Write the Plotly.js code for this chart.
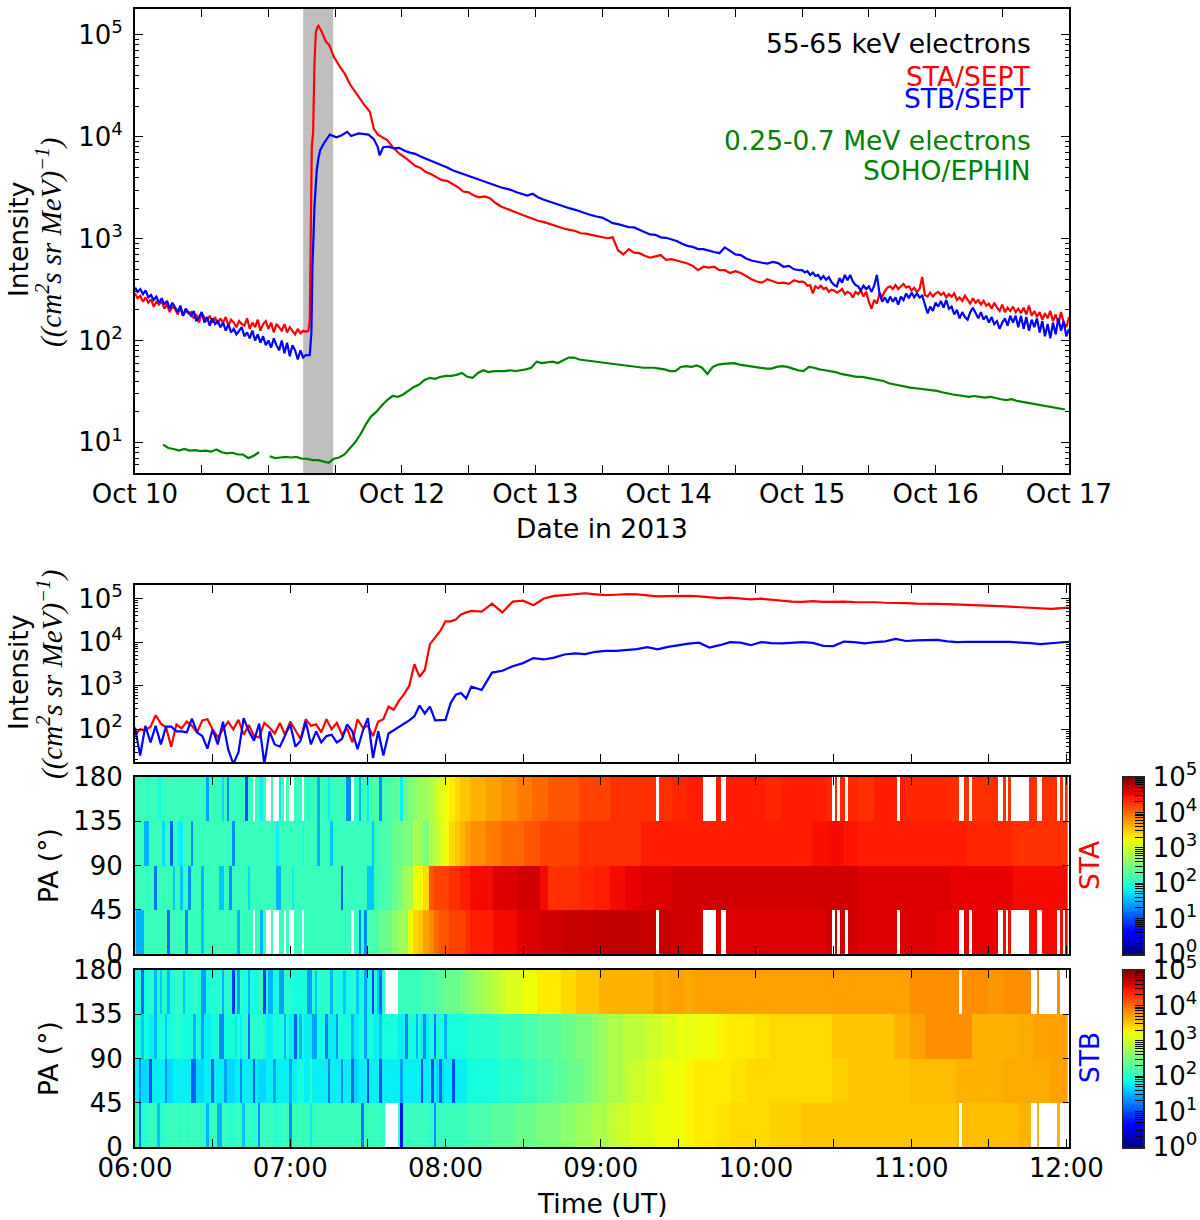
<!DOCTYPE html>
<html><head><meta charset="utf-8">
<script src="https://cdn.plot.ly/plotly-3.0.1.min.js"></script>
<style>html,body{margin:0;padding:0;background:#fff}#c{width:1200px;height:1220px}</style>
</head><body><div id="c"></div>
<script>
// ---------- top panel: days since 2013-10-10 00:00 ----------
const dateTickVals=[0,0.5,1,1.5,2,2.5,3,3.5,4,4.5,5,5.5,6,6.5,7];
const dateTickText=['Oct 10','','Oct 11','','Oct 12','','Oct 13','','Oct 14','','Oct 15','','Oct 16','','Oct 17'];
const staQuiet=[290,260,275,240,265,235,255,215,240,225,245,205,225,190,215,205,180,210,175,195,185,190,165,180,150,185,170,155,175,150,170,145,165,150,170,140,160,150,135,155,145,140,165,130,150,135,160,125,145,155,130,150,120,145,135,125,145,120,135,125,115,130,118,125,122,125];
const stbQuiet=[330,300,320,285,310,265,280,250,270,235,260,225,245,205,235,210,190,220,175,205,190,175,195,155,170,190,150,170,140,165,145,155,135,150,125,145,120,130,115,125,135,110,120,105,125,100,115,95,110,90,100,85,105,90,80,100,75,95,70,90,80,65,80,68,72,72];
const staBurstDays=[1.31,1.325,1.335,1.345,1.355,1.365,1.375,1.40,1.43,1.455,1.49,1.53,1.575,1.61,1.647,1.68,1.72,1.76,1.79,1.82,1.85,1.89,1.93,1.977,2.02];
const staBurst=[160,8000,11000,52000,105000,118000,123000,107000,86000,80000,61000,50000,41000,33000,28000,24000,20500,17600,12000,10500,10000,9300,8000,6900,6300];
const stbBurstDays=[1.31,1.322,1.33,1.345,1.362,1.375,1.388,1.417,1.46,1.51,1.546,1.59,1.62,1.675,1.75,1.79,1.82,1.833,1.86,1.90,1.94,1.98,2.02];
const stbBurst=[72,120,525,2040,4680,6200,7400,8700,10500,9900,10300,11200,10200,10800,10500,9500,7900,6600,7900,8000,7700,7800,7300];
const staDecay=[5700,5200,4950,4500,4300,4000,3750,3700,3450,3200,2900,2850,2650,2550,2600,2500,2250,2080,1980,1900,1800,1720,1640,1560,1500,1460,1400,1340,1300,1250,1220,1190,1130,1120,1090,1060,1040,1010,1030,770,700,790,730,720,680,650,670,690,620,630,610,590,570,540,490,530,520,530,490,490,460,480,460,430,400,380,370,400,385,365,370,360,390,375];
const stbDecay=[7000,6800,6400,6100,5800,5500,5300,5000,4700,4500,4300,4150,3950,3800,3600,3500,3350,3200,3100,3000,2850,2750,2650,2760,2550,2420,2320,2240,2150,2080,1980,1920,1840,1760,1700,1650,1610,1520,1420,1390,1350,1300,1290,1220,1160,1100,1090,1030,1020,980,950,890,850,830,790,790,760,740,720,820,760,700,690,640,610,590,580,570,590,575,530,540,500,490];
const staLate=[380,370,345,350,290,340,325,345,320,330,300,315,310,295,305,320,285,300,290,265,300,285,310,270,300,240,205,250,230,290,270,305,330,340,320,350,320,340,360,330,340,310,330,300,320,420,280,270,295,270,290,300,280,295,265,285,270,290,250,265,245,275,250,230,260,235,250,225,245,220,230,205,235,210,195,225,190,210,195,215,190,205,185,210,180,220,175,195,170,190,160,185,165,195,155,180,145,190,150,135,170];
const stbLate=[490,465,480,440,465,430,440,400,430,395,420,375,350,340,410,370,440,390,440,380,350,340,310,345,320,340,300,345,440,290,240,265,235,270,240,265,225,270,250,290,260,295,265,290,265,275,230,185,215,195,235,215,245,210,250,205,215,180,200,165,190,170,160,190,210,185,165,190,160,175,150,170,145,155,130,150,165,140,175,150,175,135,175,130,170,125,160,135,165,120,155,110,145,105,150,115,165,125,155,110,130];
const ephin=[9.5,8.8,8.6,8.3,8.6,8.3,8.4,8.2,8.3,8.1,8.5,8.0,7.8,7.9,7.6,7.6,7.0,7.4,8.0,null,7.3,7.0,7.1,7.2,7.1,7.2,6.9,6.9,6.7,6.7,6.5,6.3,6.9,7.1,7.6,8.8,10,12,15,18,20,23,26,28.5,28,29.5,32,35,37,41,43,42,44,45,45,46,48,44,43,48,51,49,50,50,50,51,50,51,52,54,62,60,61,62,60,64,68,68,65,64,63,63,62,61,60,59,58,57,56,55,54,54,54,53,52,50,50,55,56,55,57,54,47,55,58,59,60,60,58,57,56,55,54,53,53,55,56,55,53,51,50,55,54,52,51,50,49,47,46,45,44,44,43,42,41,40,38,37,36.5,35,34.5,34,33.5,33,32.5,32,31,30,29.5,29,28.5,28,28.5,28,27.5,28,27,26.5,26,26.5,25.5,25,24.5,24,23.5,23,22.5,22,21.5,21];

// ---------- second panel: minutes after 06:00 ----------
const timeTickVals=[0,30,60,90,120,150,180,210,240,270,300,330,360];
const timeTickText=['06:00','','07:00','','08:00','','09:00','','10:00','','11:00','','12:00'];
const staOnsetFine=[75,100,95,115,210,135,110,40,130,105,150,120,85,160,170,100,65,100,150,100,165,75,125,70,65,140,110,80,140,75,150,95,60,170,120,130,85,170,100,140,75,105,50,170,110,120,70,150,170,330,280,450,640,1000,3100,1600,2300,9000,13000,18000,30000,30000,33000,43000,48000,52000];
const staOnsetCoarse=[50000,76000,48000,85000,89000,70000,100000,115000,120000,125000,132000,125000,119000,122000,126000,124000,118000,112000,114000,115000,115000,112000,106000,102000,105000,100000,96000,99000,94000,90000,85000,84000,87000,84000,85000,85000,83000,84000,82000,80000,80000,78000,76000,77000,75000,74000,73000,71000,69000,68000,67000,65000,63000,62000,60000,58000,60000,62000];
const stbOnsetFine=[110,25,120,50,120,45,115,115,90,90,85,175,85,70,36,100,45,150,35,16,30,180,90,55,135,16,90,45,40,75,130,40,55,150,45,90,50,70,75,50,60,130,90,35,90,180,22,90,25,80,95,110,130,160,200,350,230,330,160,160,165,400,620,680,510,950];
const stbOnsetCoarse=[800,2000,2200,2800,3300,4300,4000,4400,5200,5500,5300,6000,6300,6300,6600,6900,7700,6800,7800,8500,9200,9700,7500,8500,10000,9700,8500,10000,9500,9400,9800,10000,9600,8200,8100,10300,10000,9400,10000,10400,11800,10600,11000,11200,11300,10400,10000,10200,10300,10000,10100,10100,9900,9500,9000,9400,10000,10200];
const onsetCoarseMinutes=[134,138,142,146,150,154,158,162,166,170,174,178,182,186,190,194,198,202,206,210,214,218,222,226,230,234,238,242,246,250,254,258,262,266,270,274,278,282,286,290,294,298,302,306,310,314,318,322,326,330,334,338,342,346,350,354,358,361];

// ---------- pitch-angle spectrograms, values in tenths of a decade ----------
const paEdges=[0,45,90,135,180];
const paTickVals=[0,45,90,135,180];
// column spans in minutes
const staSpans=[5,5,5,5,5,5,5,5,5,5,5,5,5,5,5,5,5,5,5,5, 2,2,2,2,2,2,2,2,2,2,2,2,2,2,2, 3,3,3,3,3,3,3,3,3,3, 6,6,6,6,6,6,6,6,6,6,6,6,6,6,6,6,6,6,6,6,6,6,6,6,6,6,6,6,6,6,6,6,6,7];
const sta135=[21,21,21,21,21,21,21,21,21,21,21,22,21,21,21,21,21,21,22,22, 23,24,24,25,26,27,27,28,30,31,32,33,34,35,35, 36,36,37,37,38,38,39,39,40,40, 41,41,42,42,43,43,43,43,43.5,44,44,44,44,44,43.5,44,44,44,43.5,43.5,43,44,44,43.5,43.5,43.5,43,43,43,43,43,43,43,43];
const sta90=[21,21,21,21,21,21,21,21,21,21,21,21,21,21,21,21,21,21,21,22, 24,24,25,25,28,27,25,28,29,31,32,34,35,36,37, 38,38,39,39,40,40,40,41,41,42, 42,42,43,43,43,43,44,44,44,44,44,44,44,44,44,44,44,44.7,45,44.5,44,44,44,44,44,44,44,43.5,43.5,43.5,43,43,43,43,43];
const sta45=[21,21,21,21,21,21,21,21,21,21,21,21,21,21,21,21,21,21,21,22, 24,25,27,28,32,32,34,41,42,42,42,43,43,44,44, 45,45,45,46,46,46,46.5,46.5,46.5,45, 43,43,43.5,44,45,45.5,46,46,46.5,46.5,46.5,46.5,46.5,46.5,46.5,46.5,46.5,46.5,46.5,46.5,46,46,46,46,46,46,45.5,45.5,45.5,45.5,45,45,45,45];
const sta0=[21,21,21,21,21,21,21,21,21,21,21,21,21,21,21,21,21,21,22,24, 26,27,27,32,34,35,37,38,40,41,41,42,42,42,43, 44,44,44,45,45,45,45.5,46,46,46.5, 46.5,47,47,47.3,47.3,47.3,47,47,46.5,46.5,46.5,46,46,46,46,46,46,46,46.5,46.5,46,46,46,46,46,45.5,45.5,45.5,45.5,45,45,45,45,45];
// thin stripes: minute, value
const sta135Stripes=[[5,20],[9,19],[10,19],[28,14],[34,17],[36,13],[43,10],[49,18],[56,18],[67,19],[71,15],[75,18],[82,13],[83,13],[87,15],[90,18],[95,13],[103,18]];
const sta90Stripes=[[4,15],[5,15],[11,17],[14,11],[17,18],[18,18],[22,13],[38,13],[55,18],[65,19],[71,15],[76,16],[92,16]];
const sta45Stripes=[[8,12],[15,16],[18,16],[21,13],[26,15],[33,16],[34,16],[37,13],[44,17],[55,15],[56,15],[61,18],[80,11],[90,16],[91,16],[92,16]];
const sta0Stripes=[[1,15],[2,15],[3,15],[13,11],[20,13],[26,16],[40,15],[49,15],[87,13],[89,13]];
const staGaps=[46,51,52,54,55,58,60,61,65,84,202,220,221,222,223,224,227,228,270,272,275,295,319,320,323,334,335,337,339,340,341,342,343,344,345,349,350,357,359];
const stbSpans=[3,3,3,3,3,3,3,3,3,3,3,3,3,3,3,3,3,3,3,3,3,3,3,3,3,3,3,3,3,3,3,3,3,3,3,3,3,3,3,3, 3,3,3,3,3,3,3,3,3,3,3,3,3,3,3,3,3,3,3,3,3,3,3,3,3,3,3,3,3,3,3,3,3,3,3,3,3,3,3,3, 6,6,6,6,6,6,6,6,6,6,6,6,6,6,6,6,6,6,6,6,1];
const stb135=[19,19,20,20,19,20,20,19,20,19,20,20,20,20,19,19,20,20,19,20,19,19,19,20,20,20,19,19,20,19,19,19,20,20,21,21,21,22,22,23, 24,24,25,26,27,28,29,30,31,31,32,32,33,33,33,34,34,35,35,35,36,36,36,36,36,36,36,37,36.5,37,37,36.5,37,37,37,37,37,37,37,37, 37,37,37,37,37,37,37,37,37,37,38,38,38,38,38,37.5,38,38,38,38,38];
const stb90=[19,19,18,19,19,20,19,19,19,18,19,19,19,18,20,20,19,18,19,19,18,19,18,19,19,18,19,19,18,19,19,18,19,19,18,19,19,18,19,19, 19,19,19,20,20,20,20,21,21,21,22,22,23,23,23,24,24,25,25,26,27,28,28,29,29,29,30,30,31,31,32,31.5,32,32,32,32.5,33,33,33,33, 33.5,34,34,34,34,35,35,35,35,36,37,38,38,38,36,36,36,36.5,37,37,37];
const stb45=[18,17,18,18,17,18,18,18,17,18,18,18,17,18,18,18,17,18,18,18,18,19,18,18,18,18,18,18,17,18,18,18,18,18,18,18,18,18,18,17, 18,18,18,19,19,19,19,20,20,20,21,21,22,22,23,23,24,24,25,26,27,28,28,29,30,30,31,31,32,32,32,32.5,33,33,33,33,33,33.5,33.5,34, 34,34,34,34,34,34.5,35,35,35,35,35.5,35.5,35.5,36,36,36,36.5,36.5,36.5,37,37];
const stb0=[21,20,21,20,21,21,20,21,21,20,21,21,20,21,21,20,21,21,20,21,21,21,21,21,21,21,21,21,21,21,21,21,20,21,21,21,21,21,20,21, 21,21,21,22,22,22,23,23,23,24,24,24,25,25,25,26,26,27,27,28,28,29,30,30,31,31,31,32,32,32,32,32.5,33,33,33,33.5,33.5,34,34,34, 34,34.5,34.5,35,35,35,35,35,35,35,35,35,35,35.5,35.5,35.5,35.5,36,36,36,36];
const stb135Stripes=[[3,11],[8,15],[10,16],[13,15],[16,21],[19,16],[23,21],[26,14],[27,14],[31,19],[34,15],[38,9],[40,14],[44,15],[50,9],[52,15],[53,15],[56,14],[57,14],[60,20],[67,14],[68,14],[70,16],[76,15],[81,16],[86,16],[89,14],[92,9],[94,16],[95,11]];
const stb90Stripes=[[3,16],[8,15],[12,16],[15,19],[17,21],[23,15],[26,14],[33,13],[34,13],[40,20],[44,11],[49,21],[58,15],[62,11],[64,15],[69,14],[70,14],[74,12],[78,13],[84,15],[89,14],[95,16],[105,12],[109,15],[112,13],[116,12],[120,15]];
const stb45Stripes=[[2,13],[6,10],[12,13],[22,11],[23,11],[30,11],[35,14],[41,13],[46,11],[54,14],[60,14],[68,21],[75,12],[80,13],[84,11],[90,10],[95,10],[103,14],[111,10],[115,10],[118,11],[123,10]];
const stb0Stripes=[[2,12],[9,16],[19,22],[28,15],[32,15],[33,15],[42,16],[48,13],[57,21],[60,13],[68,18],[78,21],[88,12],[103,7],[116,13]];
const stbGaps=[97,98,99,100,101,319,347,348,350,351,352,353,354,355,356,358,359,360];

const decadeLabels={1:'10<sup>1</sup>',2:'10<sup>2</sup>',3:'10<sup>3</sup>',4:'10<sup>4</sup>',5:'10<sup>5</sup>',0:'10<sup>0</sup>'};
const mainDecades=[10,100,1000,10000,100000];
const subMultiples=[2,3,4,5,6,7,8,9];

// ---------- helpers ----------
const FONT='"DejaVu Sans"', W=1200, H=1220;
const L=135,R=1069;
const xd=[L/W,R/W];
const yd=(top,bot)=>[1-bot/H,1-top/H];
function grid(start,step,n){return Array.from({length:n},(_,i)=>+(start+step*i).toFixed(3));}
function perMinute(spans,vals,stripes,gaps){
  const out=[];spans.forEach((s,i)=>{for(let k=0;k<s;k++)out.push(vals[i]);});
  stripes.forEach(([m,v])=>{out[m]=v;});
  (gaps||[]).forEach(m=>{out[m]=null;});
  return out.slice(0,361);
}
const minutes=grid(0,1,361);
const jet=[[0,'rgb(0,0,128)'],[.11,'rgb(0,0,255)'],[.125,'rgb(0,0,255)'],[.34,'rgb(0,219,255)'],[.35,'rgb(0,230,255)'],[.375,'rgb(20,255,226)'],[.64,'rgb(238,255,10)'],[.65,'rgb(247,245,0)'],[.66,'rgb(255,236,0)'],[.89,'rgb(255,19,0)'],[.91,'rgb(232,0,0)'],[1,'rgb(128,0,0)']];

const quietDays=grid(0,0.02,staQuiet.length), decayDays=grid(2.06,0.04,staDecay.length), lateDays=grid(5,0.02,staLate.length);
const ephinDays=grid(0.21,0.04,ephin.length);
const onsetFineMinutes=grid(0,2,staOnsetFine.length);
function line(x,y,color,xa,ya){return {type:'scatter',mode:'lines',x,y,xaxis:xa,yaxis:ya,line:{color,width:2.2},hoverinfo:'skip',showlegend:false,connectgaps:false};}
function heat(rows,xa,ya){return {type:'heatmap',x:minutes,y:paEdges,z:rows,zmin:0,zmax:50,colorscale:jet,showscale:false,xaxis:xa,yaxis:ya,hoverinfo:'skip',zsmooth:false};}
function cbar(xa,ya){
  const lv=[],z=[];for(let i=0;i<=100;i++){lv.push(Math.pow(10,i/20));z.push([i/2]);}
  return {type:'heatmap',x:[0,1],y:lv,z:z,zmin:0,zmax:50,colorscale:jet,showscale:false,xaxis:xa,yaxis:ya,hoverinfo:'skip'};
}

const traces=[
 line(ephinDays,ephin,'#008000','x','y'),
 line(quietDays.concat(staBurstDays,decayDays,lateDays),staQuiet.concat(staBurst,staDecay,staLate),'#ff0000','x','y'),
 line(quietDays.concat(stbBurstDays,decayDays,lateDays),stbQuiet.concat(stbBurst,stbDecay,stbLate),'#0000ff','x','y'),
 line(onsetFineMinutes.concat(onsetCoarseMinutes),staOnsetFine.concat(staOnsetCoarse),'#ff0000','x2','y2'),
 line(onsetFineMinutes.concat(onsetCoarseMinutes),stbOnsetFine.concat(stbOnsetCoarse),'#0000ff','x2','y2'),
 heat([perMinute(staSpans,sta0,sta0Stripes,staGaps),perMinute(staSpans,sta45,sta45Stripes),perMinute(staSpans,sta90,sta90Stripes),perMinute(staSpans,sta135,sta135Stripes,staGaps)],'x3','y3'),
 heat([perMinute(stbSpans,stb0,stb0Stripes,stbGaps),perMinute(stbSpans,stb45,stb45Stripes),perMinute(stbSpans,stb90,stb90Stripes),perMinute(stbSpans,stb135,stb135Stripes,stbGaps)],'x4','y4'),
 cbar('x5','y5'),cbar('x6','y6')
];

function minorVals(decLow,decHigh){const o=[];for(let d=decLow;d<=decHigh;d++)subMultiples.forEach(m=>o.push(m*Math.pow(10,d)));return o;}
const tf={family:FONT,size:26,color:'#000'};
const frame={showline:true,linecolor:'#000',linewidth:2,mirror:'ticks',ticks:'inside',tickcolor:'#000',tickwidth:1,ticklen:8,showgrid:false,zeroline:false,tickfont:tf,ticklabelstandoff:5};
const logY=(dom,range,len,decs)=>Object.assign({},frame,{domain:dom,type:'log',range,tickmode:'array',tickvals:decs,ticktext:decs.map(v=>decadeLabels[Math.round(Math.log10(v))]),minor:{tickmode:'array',tickvals:minorVals(0,5),ticks:'inside',ticklen:len,tickcolor:'#000',tickwidth:1,showgrid:false}});
const timeX=(dom,anchor,labels)=>Object.assign({},frame,{domain:dom,anchor,range:[0,361],tickmode:'array',tickvals:timeTickVals,ticktext:labels?timeTickText:timeTickVals.map(()=>''),ticklabelstandoff:-3});
const paY=(dom)=>Object.assign({},frame,{domain:dom,range:[0,180],tickmode:'array',tickvals:paTickVals,ticktext:paTickVals.map(String),ticklen:6});
const cbX=(dom,anchor)=>({domain:dom,anchor,range:[0,1],showline:true,linecolor:'#222',linewidth:1.5,mirror:true,showticklabels:false,ticks:'',showgrid:false,zeroline:false});
const cbY=(dom,anchor)=>({domain:dom,anchor,side:'right',type:'log',range:[0,5],tickmode:'array',tickvals:[1,10,100,1000,10000,100000],ticktext:[0,1,2,3,4,5].map(k=>decadeLabels[k]),ticks:'inside',ticklen:8,tickwidth:1,tickcolor:'#000',showgrid:false,zeroline:false,showline:true,linecolor:'#222',linewidth:1.5,mirror:true,tickfont:tf,ticklabelstandoff:3,minor:{tickmode:'array',tickvals:minorVals(0,4),ticks:'inside',ticklen:8,tickwidth:1,tickcolor:'#000',showgrid:false}});

function txt(s,x,y,color,opt){return Object.assign({text:s,x:x/W,y:1-y/H,xref:'paper',yref:'paper',showarrow:false,xanchor:'center',yanchor:'middle',font:{family:FONT,size:26.5,color}},opt||{});}
const mathFont={family:'"Liberation Serif"',size:29,color:'#000'};
const unit='((cm<sup>2</sup>s sr MeV)<sup>−1</sup>)';
const annotations=[
 txt('55-65 keV electrons',1033,44,'#000',{xanchor:'right'}),
 txt('STA/SEPT',1033,76,'#ff0000',{xanchor:'right'}),
 txt('STB/SEPT',1033,98,'#0000ff',{xanchor:'right'}),
 txt('0.25-0.7 MeV electrons',1033,140,'#008000',{xanchor:'right'}),
 txt('SOHO/EPHIN',1033,170,'#008000',{xanchor:'right'}),
 txt('Date in 2013',602,529,'#000'),
 txt('Time (UT)',602,1203,'#000'),
 txt('Intensity',18,240,'#000',{textangle:-90}),
 txt('<i>'+unit+'</i>',50,242,'#000',{textangle:-90,font:mathFont}),
 txt('Intensity',18,673,'#000',{textangle:-90}),
 txt('<i>'+unit+'</i>',50,674,'#000',{textangle:-90,font:mathFont}),
 txt('PA (°)',48,866,'#000',{textangle:-90}),
 txt('PA (°)',48,1059,'#000',{textangle:-90}),
 txt('STA',1089,866,'#ff0000',{textangle:-90}),
 txt('STB',1089,1058,'#0000ff',{textangle:-90})
];

const layout={
 width:W,height:H,margin:{l:0,r:0,t:0,b:0},paper_bgcolor:'#fff',plot_bgcolor:'#fff',showlegend:false,font:tf,
 shapes:[{type:'rect',xref:'x',yref:'y domain',x0:1.26,x1:1.485,y0:0,y1:1,fillcolor:'#bfbfbf',line:{width:0},layer:'below'}],
 annotations,
 xaxis:Object.assign({},frame,{domain:xd,anchor:'y',range:[0,7],tickmode:'array',tickvals:dateTickVals,ticktext:dateTickText,ticklabelstandoff:-3}),
 yaxis:logY(yd(9,473),[0.699,5.255],4,mainDecades),
 xaxis2:timeX(xd,'y2',false),
 yaxis2:Object.assign(logY(yd(585,762),[1.25,5.31],3,mainDecades.slice(1)),{anchor:'x2'}),
 xaxis3:timeX(xd,'y3',false),
 yaxis3:Object.assign(paY(yd(777,954)),{anchor:'x3'}),
 xaxis4:timeX(xd,'y4',true),
 yaxis4:Object.assign(paY(yd(970,1147)),{anchor:'x4'}),
 xaxis5:cbX([1123/W,1143/W],'y5'),
 yaxis5:cbY(yd(777,954),'x5'),
 xaxis6:cbX([1123/W,1143/W],'y6'),
 yaxis6:cbY(yd(970,1147),'x6')
};
Plotly.newPlot('c',traces,layout,{staticPlot:true,displayModeBar:false});
</script></body></html>
